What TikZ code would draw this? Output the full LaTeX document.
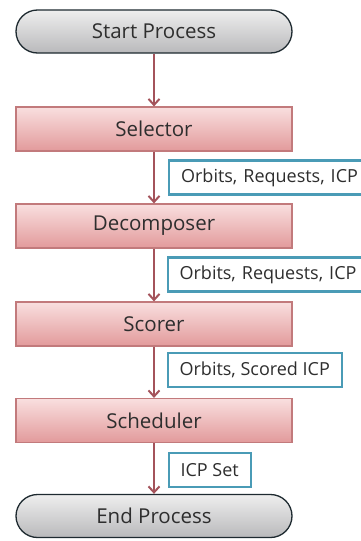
\documentclass[tikz,border=0pt]{standalone}
\usepackage{fontspec}
\setmainfont{Open Sans}
\usetikzlibrary{shapes.misc,arrows.meta}
\definecolor{arrowred}{HTML}{A4535B}
\definecolor{boxedge}{HTML}{C27A7C}
\definecolor{boxtop}{HTML}{F9DFDF}
\definecolor{boxbot}{HTML}{E29A9B}
\definecolor{termtop}{HTML}{EEEEEE}
\definecolor{termbot}{HTML}{B9B9BB}
\definecolor{termedge}{HTML}{1E2A30}
\definecolor{tagedge}{HTML}{4A9BB6}
\definecolor{ink}{HTML}{2E2E2E}
\begin{document}
\begin{tikzpicture}[x=1pt,y=-1pt,
  terminal/.style={rounded rectangle, draw=termedge, line width=1.3pt,
    top color=termtop, bottom color=termbot,
    minimum width=276pt, minimum height=43pt, inner sep=0pt,
    font=\fontsize{20.5}{24}\selectfont, text=ink},
  procbox/.style={rectangle, draw=boxedge, line width=1.2pt,
    top color=boxtop, bottom color=boxbot,
    minimum width=276pt, minimum height=44pt, inner sep=0pt,
    font=\fontsize{20.5}{24}\selectfont, text=ink},
  tag/.style={rectangle, draw=tagedge, line width=2.2pt, fill=white,
    anchor=west, minimum height=34pt, inner xsep=12pt, inner ysep=0pt,
    font=\fontsize{18}{21}\selectfont, text=ink},
  widetag/.style={tag, minimum width=205pt, align=left, text width=181pt},
  flow/.style={draw=arrowred, line width=2.2pt,
    -{Straight Barb[length=6pt,width=11pt,line width=2pt]}}
]
\useasboundingbox (0,0) rectangle (361,541);
\fill[white] (0,0) rectangle (361,541);

% main column of stages
\node[terminal] (start) at (154,31.5) {Start Process};
\node[procbox] (sel) at (154,129) {Selector};
\node[procbox] (dec) at (154,226) {Decomposer};
\node[procbox] (sco) at (154,324) {Scorer};
\node[procbox] (sch) at (154,420.5) {Scheduler};
\node[terminal] (end) at (154,516) {End Process};

% data passed between stages
\draw[flow] (start.south) -- (sel.north);
\draw[flow] (sel.south) -- (dec.north);
\draw[flow] (dec.south) -- (sco.north);
\draw[flow] (sco.south) -- (sch.north);
\draw[flow] (sch.south) -- (end.north);

\node[widetag] (t1) at (168,177.5) {Orbits, Requests, ICP};
\node[widetag] (t2) at (166.5,274.5) {Orbits, Requests, ICP};
\node[tag] (t3) at (166.5,370) {Orbits, Scored ICP};
\node[tag] (t4) at (167.5,470) {ICP Set};
\end{tikzpicture}
\end{document}
